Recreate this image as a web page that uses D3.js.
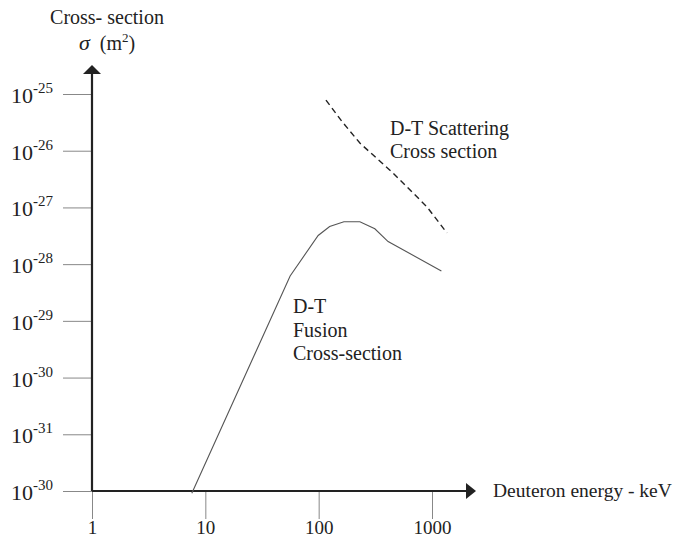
<!DOCTYPE html>
<html>
<head>
<meta charset="utf-8">
<script src="https://cdn.jsdelivr.net/npm/d3@7"></script>
<style>
  body { margin: 0; background: #fff; }
  svg text { font-family: "Liberation Serif", "DejaVu Serif", serif; fill: #222; }
</style>
</head>
<body>
<svg id="chart" width="674" height="542"></svg>
<script>
// energies in keV, cross sections in m^2
const fusionEnergy = [7.6, 56, 99, 125, 167, 231, 313, 410, 1210];
const fusionSigma = [9.1e-33, 6.2e-29, 3.2e-28, 4.6e-28, 5.6e-28, 5.6e-28, 4.2e-28, 2.5e-28, 7.6e-29];

const scatterEnergy = [116, 160, 232, 453, 904, 1355];
const scatterSigma = [7.8e-26, 3.3e-26, 1.35e-26, 4.05e-27, 1.02e-27, 3.55e-28];

const xTicks = [1, 10, 100, 1000];
const xTickLabels = ['1', '10', '100', '1000'];
const yTicks = [1e-25, 1e-26, 1e-27, 1e-28, 1e-29, 1e-30, 1e-31, 1e-32];
// bottom label reads -30 in the original figure
const yTickExp = ['-25', '-26', '-27', '-28', '-29', '-30', '-31', '-30'];

const svg = d3.select('#chart');

const x = d3.scaleLog().domain([1, 1000]).range([92, 432]);
const y = d3.scaleLog().domain([1e-32, 1e-25]).range([491, 94]);

// tick marks
const xAxis = svg.append('g')
    .attr('transform', `translate(0,${y(1e-32)})`)
    .call(d3.axisBottom(x).tickValues(xTicks).tickSize(28).tickFormat((d, i) => xTickLabels[i]));
xAxis.select('.domain').remove();
xAxis.selectAll('line').attr('stroke', '#888').attr('stroke-width', 1);
xAxis.selectAll('text')
    .attr('y', 43)
    .attr('dy', 0)
    .style('font-size', '19px')
    .style('font-family', '"Liberation Serif", serif')
    .attr('fill', '#222');

const yAxis = svg.append('g')
    .attr('transform', `translate(${x(1)},0)`)
    .call(d3.axisLeft(y).tickValues(yTicks).tickSize(29).tickFormat(''));
yAxis.select('.domain').remove();
yAxis.selectAll('line').attr('stroke', '#888').attr('stroke-width', 1);

// y tick labels as 10 with superscript exponent
yTicks.forEach((v, i) => {
    const t = svg.append('text')
        .attr('x', 11)
        .attr('y', y(v) + 9)
        .style('font-size', '22px');
    t.append('tspan').text('10');
    t.append('tspan')
        .attr('dy', -10)
        .style('font-size', '15px')
        .text(yTickExp[i]);
});

// main axes with arrows
const axisColor = '#222';
svg.append('line')
    .attr('x1', x(1)).attr('x2', x(1))
    .attr('y1', y(1e-32)).attr('y2', 72)
    .attr('stroke', axisColor).attr('stroke-width', 2.2);
svg.append('path')
    .attr('d', `M${x(1) - 9},74 L${x(1)},65 L${x(1) + 9},74 Z`)
    .attr('fill', axisColor);

svg.append('line')
    .attr('x1', x(1)).attr('x2', 468)
    .attr('y1', y(1e-32)).attr('y2', y(1e-32))
    .attr('stroke', axisColor).attr('stroke-width', 2.2);
svg.append('path')
    .attr('d', `M466,${y(1e-32) - 8} L476,${y(1e-32)} L466,${y(1e-32) + 8} Z`)
    .attr('fill', axisColor);

// curves
const line = d3.line().x(d => x(d[0])).y(d => y(d[1]));

svg.append('path')
    .datum(d3.zip(fusionEnergy, fusionSigma))
    .attr('d', line)
    .attr('fill', 'none')
    .attr('stroke', '#555')
    .attr('stroke-width', 1.1);

svg.append('path')
    .datum(d3.zip(scatterEnergy, scatterSigma))
    .attr('d', line)
    .attr('fill', 'none')
    .attr('stroke', '#222')
    .attr('stroke-width', 1.4)
    .attr('stroke-dasharray', '6,4');

// axis titles
svg.append('text')
    .attr('x', 107).attr('y', 24)
    .attr('text-anchor', 'middle')
    .style('font-size', '20px')
    .text('Cross- section');
const sig = svg.append('text')
    .attr('x', 107).attr('y', 50)
    .attr('text-anchor', 'middle')
    .style('font-size', '20px');
sig.append('tspan').style('font-style', 'italic').style('font-size', '22px').text('σ');
sig.append('tspan').text('\u00a0\u00a0(m');
sig.append('tspan').attr('dy', -8).style('font-size', '13px').text('2');
sig.append('tspan').attr('dy', 8).text(')');

svg.append('text')
    .attr('x', 493).attr('y', 497)
    .style('font-size', '19.5px')
    .text('Deuteron energy - keV');

// curve labels
const scatterLabel = ['D-T Scattering', 'Cross section'];
scatterLabel.forEach((s, i) => {
    svg.append('text')
        .attr('x', 390).attr('y', 135 + i * 23)
        .style('font-size', '20px')
        .text(s);
});

const fusionLabel = ['D-T', 'Fusion', 'Cross-section'];
fusionLabel.forEach((s, i) => {
    svg.append('text')
        .attr('x', 293).attr('y', 313 + i * 23.5)
        .style('font-size', '20px')
        .text(s);
});
</script>
</body>
</html>
